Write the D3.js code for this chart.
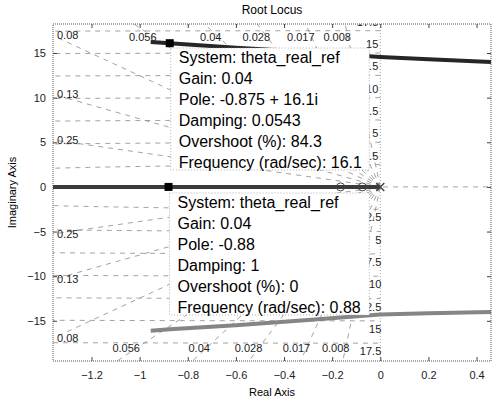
<!DOCTYPE html>
<html>
<head>
<meta charset="utf-8">
<script src="https://cdn.jsdelivr.net/npm/d3@7.9.0/dist/d3.min.js"></script>
<style>
  body { margin: 0; background: #fff; }
  svg { display: block; font-family: "Liberation Sans", Arial, sans-serif; }
</style>
</head>
<body>
<svg id="chart" width="496" height="399"></svg>
<script>
// Axis limits and ticks
const xLimits = [-1.36, 0.46];
const yLimits = [-19.5, 18.25];
const xTicks = [-1.2, -1, -0.8, -0.6, -0.4, -0.2, 0, 0.2, 0.4];
const yTicks = [-15, -10, -5, 0, 5, 10, 15];

// sgrid values
const zetaValues = [0.008, 0.017, 0.028, 0.04, 0.056, 0.08, 0.13, 0.25];
const zetaLabels = ['0.008', '0.017', '0.028', '0.04', '0.056', '0.08', '0.13', '0.25'];
const wnValues = [2.5, 5, 7.5, 10, 12.5, 15, 17.5];
const wnLabels = ['2.5', '5', '7.5', '10', '12.5', '15', '17.5'];

// Root locus branches
const upperRe = [-0.954, -0.875, -0.6, -0.3, 0, 0.2, 0.46];
const upperIm = [16.24, 16.1, 15.6, 15.1, 14.56, 14.3, 14.0];
const lowerRe = [-0.954, -0.875, -0.6, -0.3, 0, 0.2, 0.46];
const lowerIm = [-16.1, -15.95, -15.5, -14.9, -14.3, -14.15, -14.0];
const realRe = [-1.36, 0];
const realIm = [0, 0];

// Zeros / open loop markers on the real axis
const zeroRe = [-0.165, -0.075];
const poleRe = [0];

// Data tips
const tipPoles = [[-0.875, 16.1], [-0.88, 0]];
const tipLines = [
  ['System: theta_real_ref', 'Gain: 0.04', 'Pole: -0.875 + 16.1i', 'Damping: 0.0543', 'Overshoot (%): 84.3', 'Frequency (rad/sec): 16.1'],
  ['System: theta_real_ref', 'Gain: 0.04', 'Pole: -0.88', 'Damping: 1', 'Overshoot (%): 0', 'Frequency (rad/sec): 0.88']
];

const margin = { left: 53, right: 5, top: 24, bottom: 38 };
const width = 496, height = 399;

const svg = d3.select('#chart');

const x = d3.scaleLinear().domain(xLimits).range([margin.left, width - margin.right]);
const y = d3.scaleLinear().domain(yLimits).range([height - margin.bottom, margin.top]);

svg.append('defs').append('clipPath').attr('id', 'plot-clip')
  .append('rect')
  .attr('x', x(xLimits[0])).attr('y', y(yLimits[1]))
  .attr('width', x(xLimits[1]) - x(xLimits[0]))
  .attr('height', y(yLimits[0]) - y(yLimits[1]));

const plot = svg.append('g').attr('clip-path', 'url(#plot-clip)');
const gridColor = '#8a8a8a';

// damping lines
zetaValues.forEach((z) => {
  let k = Math.sqrt(1 - z * z) / z;
  [1, -1].forEach((s) => {
    plot.append('line')
      .attr('x1', x(0)).attr('y1', y(0))
      .attr('x2', x(xLimits[0])).attr('y2', y(s * k * -xLimits[0]))
      .attr('stroke', gridColor).attr('stroke-width', 0.8)
      .attr('stroke-dasharray', '5,5');
  });
});

// natural frequency semicircles
wnValues.forEach((wn) => {
  let angles = d3.range(90, 270.5, 0.5).map((a) => a * Math.PI / 180);
  let line = d3.line()
    .x((a) => x(wn * Math.cos(a)))
    .y((a) => y(wn * Math.sin(a)));
  plot.append('path')
    .attr('d', line(angles))
    .attr('fill', 'none')
    .attr('stroke', gridColor).attr('stroke-width', 0.8)
    .attr('stroke-dasharray', '5,5');
});

// real and imaginary axis lines
plot.append('line')
  .attr('x1', x(xLimits[0])).attr('x2', x(xLimits[1]))
  .attr('y1', y(0)).attr('y2', y(0))
  .attr('stroke', gridColor).attr('stroke-width', 0.8).attr('stroke-dasharray', '5,5');
plot.append('line')
  .attr('x1', x(0)).attr('x2', x(0))
  .attr('y1', y(yLimits[0])).attr('y2', y(yLimits[1]))
  .attr('stroke', gridColor).attr('stroke-width', 0.8).attr('stroke-dasharray', '1,2');

// damping labels
zetaValues.forEach((z, i) => {
  let k = Math.sqrt(1 - z * z) / z;
  let edgeIm = k * -xLimits[0];
  if (edgeIm < 17.2) {
    [1, -1].forEach((s) => {
      plot.append('text')
        .attr('x', x(xLimits[0]) + 4).attr('y', y(s * edgeIm))
        .attr('dy', '0.35em')
        .attr('font-size', 11).attr('fill', '#222')
        .text(zetaLabels[i]);
    });
  } else {
    plot.append('text')
      .attr('x', x(-16.8 / k) + 3).attr('y', y(16.8))
      .attr('dy', '0.35em').attr('text-anchor', 'end')
      .attr('font-size', 11).attr('fill', '#222')
      .text(zetaLabels[i]);
    plot.append('text')
      .attr('x', x(-18.1 / k) + 4).attr('y', y(-18.1))
      .attr('dy', '0.35em').attr('text-anchor', 'end')
      .attr('font-size', 11).attr('fill', '#222')
      .text(zetaLabels[i]);
  }
});

// frequency labels
wnValues.forEach((wn, i) => {
  plot.append('text')
    .attr('x', x(0) - 2).attr('y', y(wn) - 5)
    .attr('text-anchor', 'end')
    .attr('font-size', 11).attr('fill', '#222')
    .text(wnLabels[i]);
  plot.append('text')
    .attr('x', x(0) + 1).attr('y', y(-wn) + 12)
    .attr('text-anchor', 'end')
    .attr('font-size', 11).attr('fill', '#222')
    .text(wnLabels[i]);
});

// locus branches
let branch = d3.line().x((d) => x(d[0])).y((d) => y(d[1]));
let branches = [
  { pts: d3.zip(upperRe, upperIm), color: '#262626' },
  { pts: d3.zip(lowerRe, lowerIm), color: '#858585' },
  { pts: d3.zip(realRe, realIm), color: '#3a3a3a' }
];
branches.forEach((b) => {
  plot.append('path')
    .attr('d', branch(b.pts))
    .attr('fill', 'none')
    .attr('stroke', b.color)
    .attr('stroke-width', 4);
});

zeroRe.forEach((r) => {
  plot.append('circle')
    .attr('cx', x(r)).attr('cy', y(0)).attr('r', 4)
    .attr('fill', 'none').attr('stroke', '#444').attr('stroke-width', 1);
});
poleRe.forEach((r) => {
  plot.append('path')
    .attr('d', `M${x(r) - 4},${y(0) - 4}L${x(r) + 4},${y(0) + 4}M${x(r) - 4},${y(0) + 4}L${x(r) + 4},${y(0) - 4}`)
    .attr('stroke', '#444').attr('stroke-width', 1.5);
});

// data tip boxes
const boxTops = [48, 193];
tipPoles.forEach((p, i) => {
  let left = x(p[0]) + 1;
  let right = x(0) - 11;
  let top = boxTops[i];
  let lineH = 21;
  plot.append('rect')
    .attr('x', left).attr('y', top)
    .attr('width', right - left).attr('height', lineH * 6 - 4)
    .attr('fill', '#fff')
    .attr('stroke', '#9a9a9a').attr('stroke-width', 0.8)
    .attr('stroke-dasharray', '1,2');
  tipLines[i].forEach((t, j) => {
    plot.append('text')
      .attr('x', left + 8).attr('y', top + 15 + j * lineH)
      .attr('font-size', 16).attr('fill', '#000')
      .text(t);
  });
  plot.append('rect')
    .attr('x', x(p[0]) - 4).attr('y', y(p[1]) - 4)
    .attr('width', 8).attr('height', 8)
    .attr('fill', '#000');
});

// axes box
svg.append('rect')
  .attr('x', x(xLimits[0])).attr('y', y(yLimits[1]))
  .attr('width', x(xLimits[1]) - x(xLimits[0]))
  .attr('height', y(yLimits[0]) - y(yLimits[1]))
  .attr('fill', 'none').attr('stroke', '#555').attr('stroke-width', 1)
  .attr('stroke-dasharray', '1,1');

// axes and ticks
let xAxis = svg.append('g')
  .attr('transform', `translate(0,${y(yLimits[0])})`)
  .call(d3.axisBottom(x).tickValues(xTicks).tickSize(-4).tickPadding(10).tickFormat(d3.format('~g')));
let xAxisTop = svg.append('g')
  .attr('transform', `translate(0,${y(yLimits[1])})`)
  .call(d3.axisTop(x).tickValues(xTicks).tickSize(-4).tickFormat(''));
let yAxis = svg.append('g')
  .attr('transform', `translate(${x(xLimits[0])},0)`)
  .call(d3.axisLeft(y).tickValues(yTicks).tickSize(-4).tickPadding(7));
let yAxisRight = svg.append('g')
  .attr('transform', `translate(${x(xLimits[1])},0)`)
  .call(d3.axisRight(y).tickValues(yTicks).tickSize(-4).tickFormat(''));

[xAxis, xAxisTop, yAxis, yAxisRight].forEach((a) => {
  a.select('.domain').remove();
  a.selectAll('line').attr('stroke', '#444');
  a.selectAll('text').attr('font-size', 11).attr('fill', '#222')
    .attr('font-family', '"Liberation Sans", Arial, sans-serif');
});

// titles
svg.append('text')
  .attr('x', (x(xLimits[0]) + x(xLimits[1])) / 2).attr('y', 14)
  .attr('text-anchor', 'middle').attr('font-size', 12)
  .text('Root Locus');
svg.append('text')
  .attr('x', (x(xLimits[0]) + x(xLimits[1])) / 2).attr('y', 396)
  .attr('text-anchor', 'middle').attr('font-size', 11)
  .text('Real Axis');
svg.append('text')
  .attr('transform', `translate(16,${(y(yLimits[0]) + y(yLimits[1])) / 2}) rotate(-90)`)
  .attr('text-anchor', 'middle').attr('font-size', 11)
  .text('Imaginary Axis');
</script>
</body>
</html>
